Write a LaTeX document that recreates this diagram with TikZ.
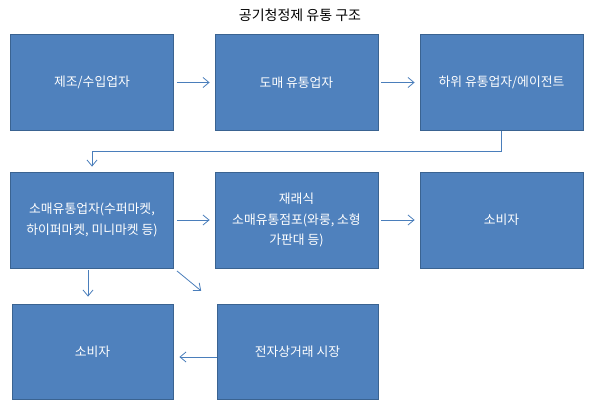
\documentclass[tikz,border=0pt]{standalone}
\usepackage{fontspec}
\setmainfont{Noto Sans CJK KR}
\usepackage{tikz}
\usetikzlibrary{arrows.meta}
\pgfdeclarelayer{edgelayer}
\pgfdeclarelayer{nodelayer}
\pgfsetlayers{edgelayer,nodelayer,main}
\definecolor{boxfill}{HTML}{4F81BD}
\definecolor{boxline}{HTML}{3A6391}
\definecolor{arrowcol}{HTML}{4A7EBB}
\tikzstyle{box}=[rectangle, fill=boxfill, draw=boxline, line width=0.8pt, text=white, align=center, minimum width=163pt, minimum height=96pt, inner sep=2pt, font=\fontsize{12.8}{20.5}\selectfont]
\tikzstyle{flow}=[draw=arrowcol, line width=0.8pt, -{Straight Barb[length=6pt,width=10pt]}]
\tikzstyle{title}=[font=\fontsize{14}{17}\selectfont]

\begin{document}
\begin{tikzpicture}[x=1pt, y=-1pt]
						\useasboundingbox (0, 0) rectangle (593, 411);
						\begin{pgfonlayer}{nodelayer}
							\node [style=title] (0) at (300, 15) {공기청정제 유통 구조};
							\node [style=box] (1) at (92, 82.5) {제조/수입업자};
							\node [style=box] (2) at (296.5, 82.5) {도매 유통업자};
							\node [style=box] (3) at (501.5, 82.5) {하위 유통업자/에이전트};
							\node [style=box] (4) at (92, 220) {소매유통업자(수퍼마켓,\\하이퍼마켓, 미니마켓 등)};
							\node [style=box] (5) at (296.5, 220) {재래식\\소매유통점포(와룽, 소형\\가판대 등)};
							\node [style=box] (6) at (501.5, 220) {소비자};
							\node [style=box, minimum width=161pt, minimum height=95pt] (7) at (92.5, 351.5) {소비자};
							\node [style=box, minimum width=161pt, minimum height=95pt] (8) at (297.5, 351.5) {전자상거래 시장};
						\end{pgfonlayer}
						\begin{pgfonlayer}{edgelayer}
							\draw [style=flow, shorten <=3pt, shorten >=5pt] (1) to (2);
							\draw [style=flow, shorten <=3pt, shorten >=5pt] (2) to (3);
							\draw [style=flow, shorten >=5pt] (3.south) -- ++(0, 21) -| (4.north);
							\draw [style=flow, shorten <=3pt, shorten >=5pt] (4) to (5);
							\draw [style=flow, shorten <=3pt, shorten >=5pt] (5) to (6);
							\draw [style=flow, shorten <=2pt, shorten >=7pt] ([xshift=-4pt]4.south) to ([xshift=-4pt]4.south |- 7.north);
							\draw [style=flow, shorten <=4pt, shorten >=20pt] (4.south east) to (8.north west);
							\draw [style=flow, shorten >=6pt] ([yshift=-5.5pt]8.west) to ([yshift=-5.5pt]7.east);
						\end{pgfonlayer}
					\end{tikzpicture}
\end{document}
